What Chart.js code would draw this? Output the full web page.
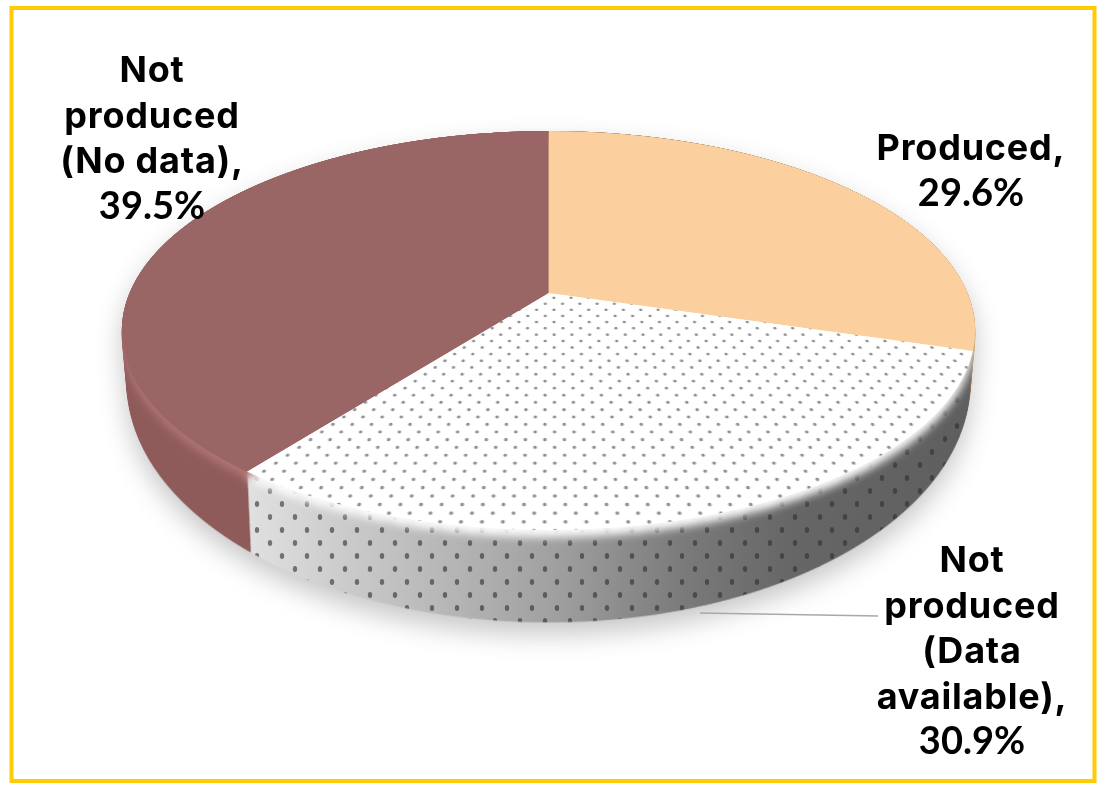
<!DOCTYPE html>
<html>
<head>
<meta charset="utf-8">
<title>Pie</title>
<script src="https://cdn.jsdelivr.net/npm/chart.js@4"></script>
<style>
  html, body { margin: 0; padding: 0; background: #fff; }
  canvas { display: block; }
</style>
</head>
<body>
<canvas id="pieChart" width="1102" height="785"></canvas>
<script>
const categories = ['Produced', 'Not produced (Data available)', 'Not produced (No data)'];
const shares = [29.6, 30.9, 39.5];
const labelLines = [
  ['Produced,'],
  ['Not', 'produced', '(Data', 'available),'],
  ['Not', 'produced', '(No data),']
];
const sliceColors = ['#fbcf9e', 'dots', '#996565'];

// where each label block goes: centre x, first baseline
const labelSpots = [[971, 160], [972, 572], [152, 82]];
const lineGap = 45.6;

// perspective of the disc top, fitted from the picture
const apexX = 548.5, apexY = 293;
const persp = { a: 419, b: 192.4, k: -0.188 };
const W = 1102, H = 785;

function dotPattern() {
  const c = document.createElement('canvas');
  c.width = 16; c.height = 24;
  const g = c.getContext('2d');
  g.fillStyle = '#fff';
  g.fillRect(0, 0, 16, 24);
  g.fillStyle = 'rgba(90,90,90,0.68)';
  [[4, 6], [12, 18]].forEach(function (p) {
    g.beginPath();
    g.ellipse(p[0], p[1], 1.5, 2.6, 0, 0, Math.PI * 2);
    g.fill();
  });
  return g.createPattern(c, 'repeat');
}

function newLayer() {
  const c = document.createElement('canvas');
  c.width = W; c.height = H;
  return c;
}

// draw one arc element row by row so the flat pie gets the perspective look
function drawInPerspective(g, arc) {
  const R = arc.outerRadius;
  for (let y = 125; y < 535; y++) {
    const t = (y + 0.5 - apexY) / persp.b;
    const den = 1 - persp.k * t;
    const v = t / den;
    if (Math.abs(v) > 1.02) continue;
    const sx = persp.a * den / R;
    const sy = persp.b * den * den / R;
    g.save();
    g.setTransform(1, 0, 0, 1, 0, 0);
    g.beginPath();
    g.rect(0, y, W, 1);
    g.clip();
    g.setTransform(sx, 0, 0, sy, apexX - arc.x * sx, y + 0.5 - (arc.y + v * R) * sy);
    arc.draw(g);
    g.restore();
  }
}

function stackWall(face) {
  const c = newLayer();
  const g = c.getContext('2d');
  for (let i = 92; i >= 0; i--) {
    const h = i / 92;
    const s = 1 - 0.012 * h;
    g.drawImage(face, apexX * (1 - s), h * (45 - 58.6), W * s, H * (1 + 0.2 * h));
  }
  return c;
}

function grayWallFill(g) {
  const grad = g.createLinearGradient(250, 0, 975, 0);
  grad.addColorStop(0, '#e0e0e0');
  grad.addColorStop(0.15, '#c8c8c8');
  grad.addColorStop(0.42, '#a0a0a0');
  grad.addColorStop(0.6, '#7a7a7a');
  grad.addColorStop(0.75, '#666666');
  grad.addColorStop(1, '#5e5e5e');
  return grad;
}

function wallDots(g) {
  g.fillStyle = 'rgba(45,45,45,0.6)';
  for (let row = 0; row < 30; row++) {
    const y = 400 + row * 13;
    for (let x = row % 2 ? 245 : 257; x < 990; x += 25) {
      g.beginPath();
      g.ellipse(x, y, 2.2, 3, 0, 0, Math.PI * 2);
      g.fill();
    }
  }
}

const disc3d = {
  id: 'disc3d',
  beforeDatasetsDraw(chart) {
    const arcs = chart.getDatasetMeta(0).data;
    const body = newLayer();
    const bg = body.getContext('2d');
    const tops = newLayer();
    const tg = tops.getContext('2d');
    const faces = arcs.map(function (arc) {
      const c = newLayer();
      drawInPerspective(c.getContext('2d'), arc);
      tg.drawImage(c, 0, 0);
      return c;
    });

    // side walls, back ones first
    [0, 2, 1].forEach(function (i) {
      const wall = stackWall(faces[i]);
      const wg = wall.getContext('2d');
      wg.globalCompositeOperation = 'source-in';
      wg.fillStyle = i === 1 ? grayWallFill(wg) : (i === 2 ? '#8f5a5a' : '#8a6a48');
      wg.fillRect(0, 0, W, H);
      if (i === 1) {
        wg.globalCompositeOperation = 'source-atop';
        wallDots(wg);
      }
      bg.drawImage(wall, 0, 0);
    });

    // soft bevel between top and wall
    bg.globalCompositeOperation = 'source-atop';
    bg.filter = 'brightness(1.15) blur(4px)';
    bg.drawImage(tops, 0, 7);
    bg.filter = 'none';
    bg.globalCompositeOperation = 'source-over';
    bg.drawImage(tops, 0, 0);

    const ctx = chart.ctx;
    ctx.save();
    ctx.shadowColor = 'rgba(0,0,0,0.22)';
    ctx.shadowBlur = 26;
    ctx.shadowOffsetY = 12;
    ctx.drawImage(body, 0, 0);
    ctx.restore();
    return false;
  },
  afterDraw(chart) {
    const ctx = chart.ctx;
    ctx.save();
    ctx.strokeStyle = '#a8a8a8';
    ctx.lineWidth = 1.5;
    ctx.beginPath();
    ctx.moveTo(700, 613);
    ctx.lineTo(878, 616);
    ctx.stroke();

    ctx.fillStyle = '#000';
    ctx.textAlign = 'center';
    labelLines.forEach(function (lines, i) {
      ctx.font = '700 36px Inter';
      ctx.letterSpacing = '0.8px';
      lines.forEach(function (txt, n) {
        ctx.fillText(txt, labelSpots[i][0], labelSpots[i][1] + n * lineGap);
      });
      ctx.font = '700 38px Lato';
      ctx.letterSpacing = '0px';
      ctx.fillText(shares[i].toFixed(1) + '%', labelSpots[i][0], labelSpots[i][1] + lines.length * lineGap);
    });

    // yellow frame
    ctx.strokeStyle = '#ffcb05';
    ctx.lineWidth = 4;
    ctx.strokeRect(11.5, 8, 1083, 773);
    ctx.restore();
  }
};

new Chart(document.getElementById('pieChart'), {
  type: 'pie',
  data: {
    labels: categories,
    datasets: [{
      data: shares,
      backgroundColor: sliceColors.map(function (c) { return c === 'dots' ? dotPattern() : c; }),
      borderWidth: 0
    }]
  },
  options: {
    responsive: false,
    devicePixelRatio: 1,
    animation: false,
    events: [],
    plugins: { legend: { display: false }, tooltip: { enabled: false } }
  },
  plugins: [disc3d]
});
</script>
</body>
</html>
